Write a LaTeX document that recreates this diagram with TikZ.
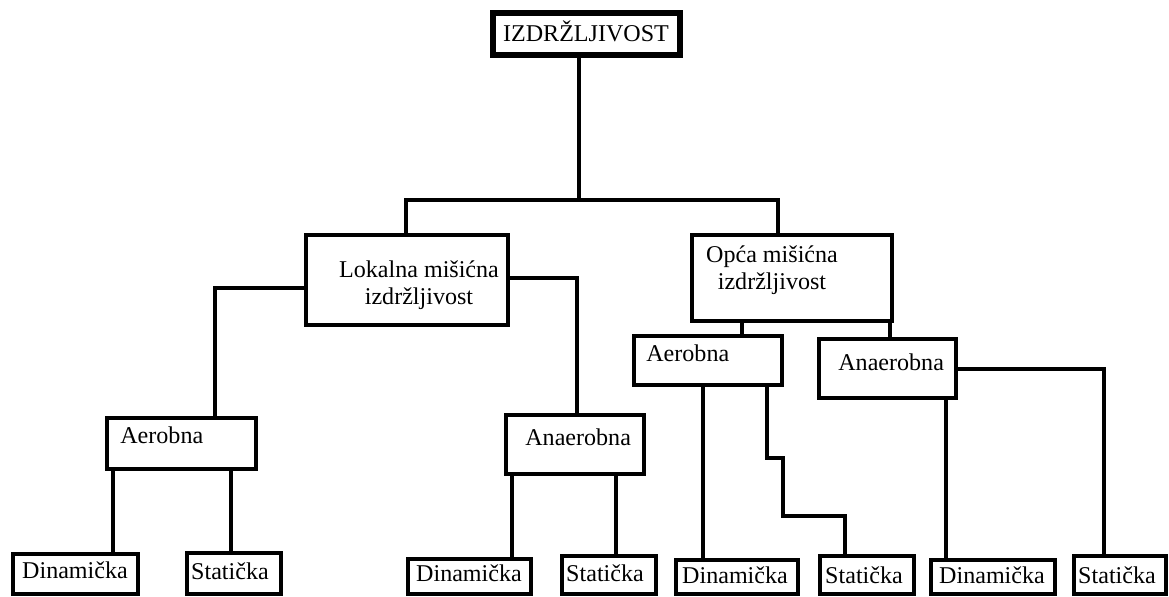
\documentclass[tikz,border=0pt]{standalone}
\usepackage{fontspec}
\setmainfont{Liberation Serif}
\usetikzlibrary{fit}

\begin{document}
\begin{tikzpicture}[x=0.02cm, y=-0.02cm,
	kutija/.style={draw, line width=0.09cm, inner sep=0pt},
	natpis/.style={inner sep=0pt, font=\fontsize{13.7}{15.4}\selectfont},
	veza/.style={line width=0.09cm}]
	\useasboundingbox (0,0) rectangle (1169,596);

	% kutije
	\node[kutija, line width=0.12cm, fit={(493,13) (680,55)}] (izd) {};
	\node[kutija, fit={(306,235) (508,325)}] (lok) {};
	\node[kutija, fit={(692,235) (892,321)}] (opc) {};
	\node[kutija, fit={(107,418) (256,469)}] (aerL) {};
	\node[kutija, fit={(506,415) (644,474)}] (anaL) {};
	\node[kutija, fit={(634,336) (782,385)}] (aerR) {};
	\node[kutija, fit={(819,339) (956,398)}] (anaR) {};
	\node[kutija, fit={(13,554) (138,594)}] (d1) {};
	\node[kutija, fit={(187,553) (281,594)}] (s1) {};
	\node[kutija, fit={(408,559) (531,594)}] (d2) {};
	\node[kutija, fit={(562,556) (656,594)}] (s2) {};
	\node[kutija, fit={(676,560) (798,594)}] (d3) {};
	\node[kutija, fit={(820,556) (914,594)}] (s3) {};
	\node[kutija, fit={(931,560) (1055,594)}] (d4) {};
	\node[kutija, fit={(1074,556) (1166,594)}] (s4) {};

	% natpisi
	\node[natpis] (izd-t) at (586,31) {IZDRŽLJIVOST};
	\node[natpis, align=center] (lok-t) at (419,285) {Lokalna mišićna\\izdržljivost};
	\node[natpis, align=center] (opc-t) at (772,270) {Opća mišićna\\izdržljivost};
	\node[natpis, anchor=west] (aerL-t) at (120,435) {Aerobna};
	\node[natpis, anchor=west] (anaL-t) at (525,437) {Anaerobna};
	\node[natpis, anchor=west] (aerR-t) at (646,353) {Aerobna};
	\node[natpis, anchor=west] (anaR-t) at (838,362) {Anaerobna};
	\node[natpis] (d1-t) at (75,570) {Dinamička};
	\node[natpis] (s1-t) at (230,571) {Statička};
	\node[natpis] (d2-t) at (469,573) {Dinamička};
	\node[natpis] (s2-t) at (605,573) {Statička};
	\node[natpis] (d3-t) at (735,575) {Dinamička};
	\node[natpis] (s3-t) at (864,575) {Statička};
	\node[natpis] (d4-t) at (992,575) {Dinamička};
	\node[natpis] (s4-t) at (1117,575) {Statička};

	% tocke veza
	\path
		(579,200) coordinate (k0)
		(406,200) coordinate (k1)
		(778,200) coordinate (k2)
		(215,288) coordinate (k3)
		(577,278) coordinate (k4)
		(742,0) coordinate (k5)
		(890,0) coordinate (k6)
		(113,0) coordinate (k7)
		(231,0) coordinate (k8)
		(512,0) coordinate (k9)
		(616,0) coordinate (k10)
		(703,0) coordinate (k11)
		(767,458) coordinate (k12)
		(783,516) coordinate (k13)
		(845,516) coordinate (k14)
		(946,0) coordinate (k15)
		(1104,369) coordinate (k16)
	;

	\draw[veza]
		(izd.south -| k0) -- (k0)
		(lok.north -| k1) |- (k2) -- (opc.north -| k2)
		(lok.west |- k3) -- (k3) -- (aerL.north -| k3)
		(lok.east |- k4) -- (k4) -- (anaL.north -| k4)
		(opc.south -| k5) -- (aerR.north -| k5)
		(opc.south -| k6) -- (anaR.north -| k6)
		(aerL.south -| k7) -- (d1.north -| k7)
		(aerL.south -| k8) -- (s1.north -| k8)
		(anaL.south -| k9) -- (d2.north -| k9)
		(anaL.south -| k10) -- (s2.north -| k10)
		(aerR.south -| k11) -- (d3.north -| k11)
		(aerR.south -| k12) -- (k12) -| (k13) -- (k14) -- (s3.north -| k14)
		(anaR.south -| k15) -- (d4.north -| k15)
		(anaR.east |- k16) -- (k16) -- (s4.north -| k16)
	;
\end{tikzpicture}
\end{document}
